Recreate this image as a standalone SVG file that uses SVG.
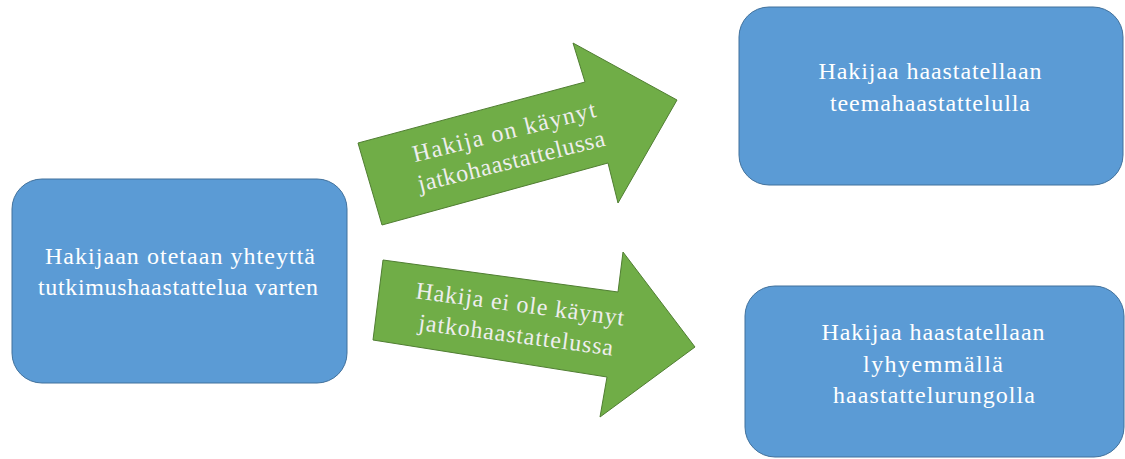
<svg xmlns="http://www.w3.org/2000/svg" width="1125" height="459" viewBox="0 0 1125 459">
<style>
.box{fill:#5B9BD5;stroke:#41719C;stroke-width:1}
.arrow{fill:#70AD47;stroke:#507E32;stroke-width:1}
.t{font-family:"Liberation Serif","DejaVu Serif",serif;font-size:24px;fill:#FFFFFF;text-anchor:middle}
.at{font-family:"Liberation Serif","DejaVu Serif",serif;font-size:24px;fill:#EEEEEE;text-anchor:middle}
</style>
<rect width="1125" height="459" fill="#FFFFFF"/>
<g id="connectors">
<g id="arrow-yes">
<polygon class="arrow" points="358,143 585,82 573,43 677,100 618,203 608,163 382,225"/>
<text class="at" transform="translate(506,139.5) rotate(-14)"><tspan x="0" y="0" textLength="188" lengthAdjust="spacing">Hakija on käynyt</tspan><tspan x="0" y="30" textLength="192" lengthAdjust="spacing">jatkohaastattelussa</tspan></text>
</g>
<g id="arrow-no">
<polygon class="arrow" points="383,260 618,292 623,252 695,347 600,417 607,377 373,340"/>
<text class="at" transform="translate(519,312) rotate(7.5)"><tspan x="0" y="0" textLength="210" lengthAdjust="spacing">Hakija ei ole käynyt</tspan><tspan x="0" y="31" textLength="196" lengthAdjust="spacing">jatkohaastattelussa</tspan></text>
</g>
</g>
<g id="node-start">
<rect class="box" x="12" y="179" width="335" height="204" rx="30" ry="30"/>
<text class="t"><tspan x="180" y="264" textLength="270" lengthAdjust="spacing">Hakijaan otetaan yhteyttä</tspan><tspan x="178" y="295" textLength="280" lengthAdjust="spacing">tutkimushaastattelua varten</tspan></text>
</g>
<g id="node-theme">
<rect class="box" x="739" y="7" width="384" height="178" rx="30" ry="30"/>
<text class="t"><tspan x="930" y="79" textLength="223" lengthAdjust="spacing">Hakijaa haastatellaan</tspan><tspan x="930" y="111" textLength="200" lengthAdjust="spacing">teemahaastattelulla</tspan></text>
</g>
<g id="node-short">
<rect class="box" x="745" y="286" width="379" height="171" rx="30" ry="30"/>
<text class="t"><tspan x="933" y="340" textLength="223" lengthAdjust="spacing">Hakijaa haastatellaan</tspan><tspan x="933" y="372" textLength="140" lengthAdjust="spacing">lyhyemmällä</tspan><tspan x="934" y="403" textLength="202" lengthAdjust="spacing">haastattelurungolla</tspan></text>
</g>
</svg>
